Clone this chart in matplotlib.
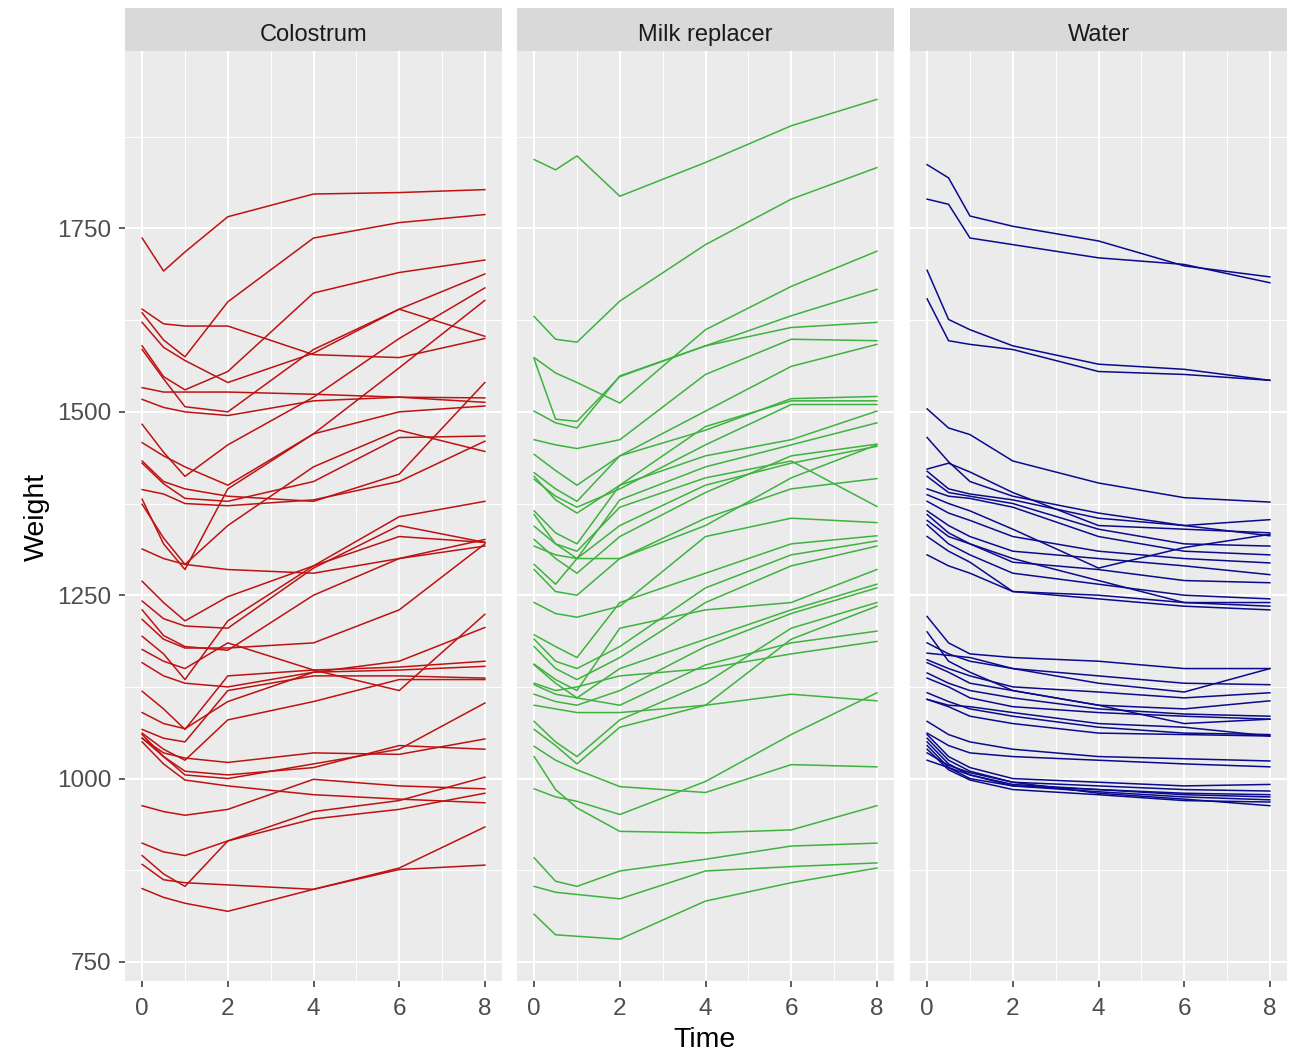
import matplotlib
matplotlib.use("Agg")
from matplotlib import pyplot as plt
from matplotlib.ticker import MultipleLocator

plt.rcParams['font.family'] = ['Liberation Sans', 'DejaVu Sans']

time = [0, 0.5, 1, 2, 4, 6, 8]
panels = ["Colostrum", "Milk replacer", "Water"]
colors = ["#BE1212", "#3DB33D", "#0A0A8C"]

# weight per calf, at each time point
colostrum = [
    [1737, 1692, 1718, 1766, 1797, 1799, 1803],
    [1635, 1598, 1575, 1650, 1737, 1758, 1769],
    [1590, 1548, 1530, 1555, 1662, 1690, 1707],
    [1640, 1620, 1617, 1617, 1578, 1574, 1600],
    [1622, 1588, 1570, 1540, 1580, 1640, 1603],
    [1585, 1545, 1507, 1500, 1585, 1640, 1688],
    [1533, 1527, 1527, 1527, 1524, 1520, 1519],
    [1517, 1506, 1500, 1495, 1515, 1520, 1513],
    [1483, 1445, 1412, 1455, 1520, 1600, 1669],
    [1458, 1440, 1425, 1400, 1470, 1560, 1652],
    [1433, 1405, 1395, 1385, 1378, 1415, 1540],
    [1430, 1402, 1382, 1378, 1405, 1465, 1467],
    [1394, 1388, 1375, 1372, 1380, 1405, 1460],
    [1381, 1320, 1285, 1395, 1470, 1500, 1508],
    [1374, 1328, 1292, 1345, 1425, 1475, 1446],
    [1313, 1300, 1292, 1285, 1280, 1300, 1326],
    [1269, 1240, 1215, 1248, 1290, 1357, 1378],
    [1242, 1218, 1208, 1205, 1287, 1345, 1322],
    [1230, 1195, 1180, 1175, 1250, 1300, 1317],
    [1217, 1190, 1178, 1178, 1185, 1230, 1320],
    [1194, 1170, 1135, 1215, 1290, 1330, 1322],
    [1176, 1160, 1150, 1185, 1148, 1120, 1224],
    [1158, 1140, 1130, 1125, 1145, 1160, 1206],
    [1119, 1095, 1067, 1140, 1148, 1152, 1160],
    [1090, 1075, 1068, 1105, 1145, 1148, 1153],
    [1067, 1055, 1050, 1120, 1140, 1140, 1137],
    [1062, 1040, 1025, 1080, 1105, 1135, 1135],
    [1055, 1030, 1005, 1000, 1020, 1040, 1103],
    [1050, 1020, 998, 990, 978, 972, 967],
    [1055, 1035, 1028, 1022, 1035, 1033, 1054],
    [1060, 1030, 1010, 1005, 1015, 1045, 1040],
    [963, 955, 950, 958, 999, 990, 986],
    [912, 900, 895, 915, 945, 958, 980],
    [895, 870, 853, 915, 955, 970, 1002],
    [883, 862, 858, 855, 849, 878, 934],
    [850, 838, 830, 819, 849, 876, 882],
]

milk = [
    [1844, 1830, 1849, 1794, 1840, 1890, 1926],
    [1630, 1599, 1595, 1651, 1728, 1790, 1833],
    [1574, 1553, 1540, 1512, 1612, 1671, 1719],
    [1572, 1490, 1487, 1548, 1590, 1631, 1667],
    [1501, 1485, 1478, 1549, 1590, 1615, 1622],
    [1462, 1455, 1450, 1462, 1551, 1599, 1597],
    [1442, 1420, 1400, 1440, 1501, 1562, 1592],
    [1417, 1395, 1378, 1440, 1475, 1518, 1521],
    [1412, 1380, 1362, 1400, 1480, 1515, 1515],
    [1408, 1385, 1370, 1395, 1455, 1510, 1510],
    [1365, 1335, 1320, 1400, 1440, 1462, 1501],
    [1360, 1320, 1300, 1380, 1425, 1455, 1485],
    [1344, 1320, 1310, 1370, 1410, 1433, 1371],
    [1326, 1300, 1280, 1330, 1390, 1440, 1456],
    [1317, 1305, 1300, 1300, 1345, 1410, 1455],
    [1292, 1265, 1300, 1345, 1400, 1430, 1453],
    [1285, 1255, 1250, 1300, 1355, 1395, 1409],
    [1240, 1225, 1220, 1235, 1330, 1355, 1349],
    [1196, 1180, 1165, 1240, 1280, 1320, 1331],
    [1190, 1160, 1150, 1180, 1260, 1305, 1324],
    [1180, 1150, 1135, 1165, 1240, 1290, 1317],
    [1156, 1135, 1120, 1205, 1230, 1240, 1285],
    [1128, 1115, 1110, 1150, 1190, 1230, 1265],
    [1115, 1105, 1100, 1120, 1180, 1225, 1260],
    [1078, 1050, 1030, 1080, 1130, 1205, 1240],
    [1067, 1045, 1020, 1070, 1100, 1190, 1235],
    [1155, 1130, 1110, 1100, 1155, 1185, 1201],
    [1130, 1120, 1125, 1140, 1150, 1170, 1187],
    [986, 975, 969, 951, 996, 1060, 1117],
    [1100, 1095, 1090, 1090, 1100, 1115, 1106],
    [1044, 1025, 1012, 989, 981, 1019, 1016],
    [1030, 985, 960, 928, 926, 930, 963],
    [892, 860, 853, 874, 890, 908, 912],
    [853, 845, 842, 836, 874, 880, 885],
    [815, 787, 785, 781, 833, 858, 878],
]

water = [
    [1837, 1819, 1767, 1753, 1733, 1699, 1684],
    [1790, 1783, 1737, 1728, 1710, 1701, 1676],
    [1693, 1626, 1612, 1590, 1565, 1558, 1543],
    [1654, 1597, 1592, 1585, 1555, 1551, 1543],
    [1504, 1478, 1469, 1433, 1403, 1383, 1377],
    [1465, 1432, 1405, 1385, 1362, 1345, 1353],
    [1422, 1430, 1418, 1390, 1345, 1340, 1335],
    [1419, 1395, 1388, 1380, 1355, 1345, 1331],
    [1412, 1390, 1385, 1375, 1340, 1320, 1317],
    [1395, 1385, 1382, 1370, 1330, 1310, 1305],
    [1387, 1375, 1365, 1340, 1287, 1315, 1333],
    [1378, 1362, 1352, 1330, 1310, 1300, 1294],
    [1365, 1345, 1330, 1310, 1300, 1290, 1278],
    [1360, 1335, 1320, 1295, 1285, 1270, 1267],
    [1346, 1320, 1305, 1280, 1265, 1250, 1245],
    [1330, 1310, 1295, 1255, 1250, 1240, 1240],
    [1305, 1290, 1280, 1255, 1245, 1235, 1230],
    [1352, 1330, 1320, 1300, 1270, 1240, 1235],
    [1221, 1185, 1170, 1165, 1160, 1150, 1150],
    [1185, 1170, 1160, 1150, 1140, 1130, 1128],
    [1171, 1168, 1165, 1150, 1130, 1118, 1150],
    [1162, 1150, 1140, 1125, 1118, 1110, 1117],
    [1158, 1145, 1130, 1120, 1100, 1095, 1106],
    [1144, 1130, 1120, 1110, 1095, 1088, 1085],
    [1137, 1125, 1110, 1098, 1090, 1085, 1081],
    [1117, 1105, 1095, 1085, 1070, 1062, 1060],
    [1108, 1098, 1085, 1075, 1062, 1060, 1058],
    [1108, 1100, 1098, 1090, 1075, 1070, 1058],
    [1078, 1060, 1050, 1040, 1030, 1027, 1024],
    [1062, 1045, 1035, 1030, 1025, 1020, 1016],
    [1200, 1160, 1145, 1120, 1100, 1075, 1081],
    [1060, 1030, 1015, 1000, 995, 990, 992],
    [1055, 1025, 1010, 995, 990, 985, 983],
    [1050, 1020, 1005, 992, 985, 980, 978],
    [1045, 1015, 1000, 990, 982, 975, 971],
    [1040, 1012, 998, 985, 978, 970, 968],
    [1035, 1018, 1008, 995, 980, 972, 963],
    [1025, 1015, 1005, 990, 985, 978, 975],
]

groups = [colostrum, milk, water]

W, H = 1301, 1057
fig = plt.figure(figsize=(W / 100, H / 100), dpi=100)

lefts = [125, 517, 910]
pw = 377
top, bottom = 51, 981
strip_top = 8

for i, (name, col, data) in enumerate(zip(panels, colors, groups)):
    ax = fig.add_axes([lefts[i] / W, 1 - bottom / H, pw / W, (bottom - top) / H])
    ax.set_facecolor("#EBEBEB")
    for s in ax.spines.values():
        s.set_visible(False)
    ax.set_xlim(-0.4, 8.4)
    ax.set_ylim(724, 1992)
    ax.xaxis.set_major_locator(MultipleLocator(2))
    ax.xaxis.set_minor_locator(MultipleLocator(1))
    ax.yaxis.set_major_locator(MultipleLocator(250))
    ax.yaxis.set_minor_locator(MultipleLocator(125))
    ax.grid(which="major", color="white", lw=1.5)
    ax.grid(which="minor", color="white", lw=0.75)
    ax.set_axisbelow(True)
    ax.tick_params(which="major", length=4, width=1.1, color="#333333",
                   labelsize=17.5, labelcolor="#4D4D4D")
    ax.tick_params(axis="x", pad=8)
    ax.tick_params(axis="y", pad=6)
    ax.tick_params(which="minor", length=0)
    if i > 0:
        ax.tick_params(axis="y", labelleft=False, length=0)
    for w in data:
        ax.plot(time, w, color=col, lw=1.1)

    sax = fig.add_axes([lefts[i] / W, 1 - top / H, pw / W, (top - strip_top) / H])
    sax.set_facecolor("#D9D9D9")
    sax.set_xticks([])
    sax.set_yticks([])
    for s in sax.spines.values():
        s.set_visible(False)
    sax.text(0.5, 0.38, name, ha="center", va="center", fontsize=17,
             color="#1A1A1A", transform=sax.transAxes)

fig.text(705 / W, 1 - 1040 / H, "Time", ha="center", va="center", fontsize=20.5)
fig.text(37 / W, 1 - 517 / H, "Weight", ha="center", va="center",
         rotation=90, fontsize=20.5)

fig.savefig("out.png", dpi=100, facecolor="white")
